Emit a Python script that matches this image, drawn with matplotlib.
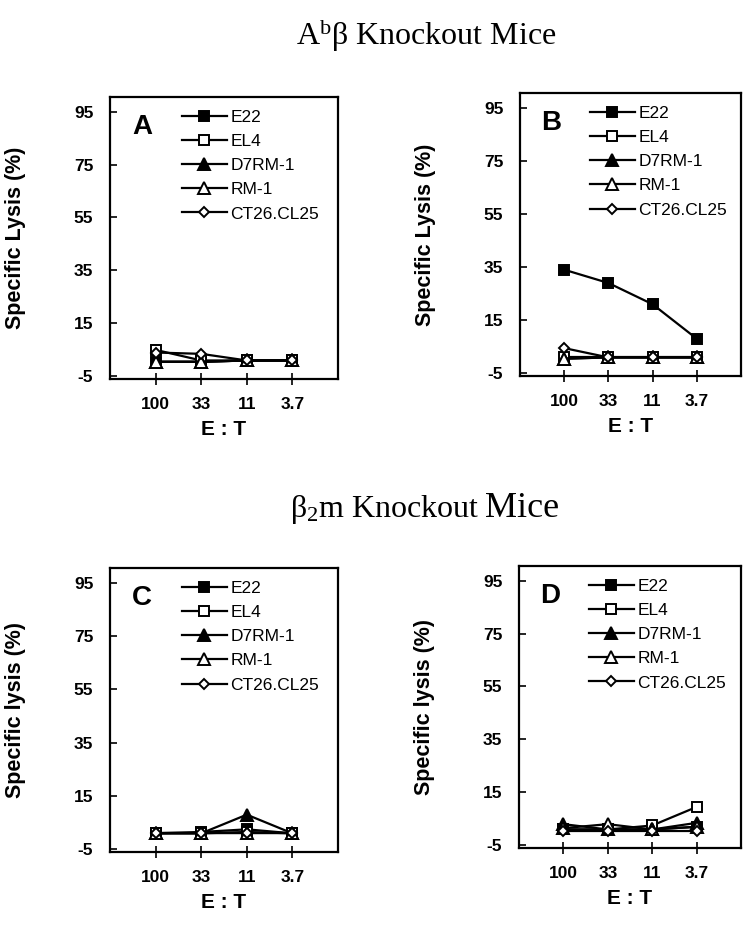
import matplotlib
matplotlib.use("Agg")
import matplotlib.pyplot as plt

plt.rcParams['font.family'] = ['Liberation Sans', 'DejaVu Sans']
plt.rcParams['mathtext.fontset'] = 'custom'
plt.rcParams['mathtext.rm'] = 'Liberation Serif'
plt.rcParams['mathtext.it'] = 'Liberation Serif'
plt.rcParams['axes.unicode_minus'] = False

# E:T ratios on the x axis
ratios = ['100', '33', '11', '3.7']
lines = ['E22', 'EL4', 'D7RM-1', 'RM-1', 'CT26.CL25']

# specific lysis (%), one list per target line
a_e22 = [0.5, 0.5, 1, 1]
a_el4 = [5, 1, 1, 1]
a_d7rm1 = [0.5, 0.5, 1, 1]
a_rm1 = [0.5, 0.5, 1, 1]
a_ct26 = [4, 3.5, 1, 1]

b_e22 = [34, 29, 21, 8]
b_el4 = [1, 1, 1, 1]
b_d7rm1 = [0.5, 1, 1, 1]
b_rm1 = [0.5, 1, 1, 1]
b_ct26 = [4.5, 1, 1, 1]

c_e22 = [1, 1.5, 2.5, 1]
c_el4 = [1, 1, 1.5, 1]
c_d7rm1 = [1, 1, 8, 1]
c_rm1 = [1, 1, 1, 1]
c_ct26 = [1, 1, 1, 1]

d_e22 = [1, 1, 1, 2]
d_el4 = [1, 1, 2.5, 9.5]
d_d7rm1 = [3, 1, 1, 3.5]
d_rm1 = [1.5, 3, 1, 2]
d_ct26 = [0.5, 0.5, 0.5, 0.5]

yticks = [-5, 15, 35, 55, 75, 95]

styles = {
    'E22': dict(marker='s', mfc='black', ms=7.5),
    'EL4': dict(marker='s', mfc='white', ms=7.5),
    'D7RM-1': dict(marker='^', mfc='black', ms=8),
    'RM-1': dict(marker='^', mfc='white', ms=8),
    'CT26.CL25': dict(marker='D', mfc='white', ms=5.5),
}

W, H = 750, 930
fig = plt.figure(figsize=(W / 100, H / 100), dpi=100)


def make_axes(left, top, right, bottom):
    return fig.add_axes([left / W, 1 - bottom / H, (right - left) / W, (bottom - top) / H])


panels = [
    ('A', make_axes(110, 97, 338, 379), [a_e22, a_el4, a_d7rm1, a_rm1, a_ct26], 'Specific Lysis (%)'),
    ('B', make_axes(520, 93, 741, 376), [b_e22, b_el4, b_d7rm1, b_rm1, b_ct26], 'Specific Lysis (%)'),
    ('C', make_axes(110, 568, 338, 852), [c_e22, c_el4, c_d7rm1, c_rm1, c_ct26], 'Specific lysis (%)'),
    ('D', make_axes(519, 566, 741, 848), [d_e22, d_el4, d_d7rm1, d_rm1, d_ct26], 'Specific lysis (%)'),
]

x = list(range(len(ratios)))
for letter, ax, series, ylab in panels:
    for name, vals in zip(lines, series):
        ax.plot(x, vals, color='black', lw=1.6, mec='black', mew=1.4,
                label=name, **styles[name])
    ax.set_xlim(-1, 4)
    ax.set_ylim(-6, 100.5)
    ax.set_yticks(yticks)
    ax.set_xticks(x)
    ax.set_xticklabels(ratios)
    for lab in ax.get_xticklabels() + ax.get_yticklabels():
        lab.set_fontweight('bold')
        lab.set_fontsize(12.5)
    ax.tick_params(axis='y', direction='in', length=5, width=1.2, pad=12)
    ax.tick_params(axis='x', direction='inout', length=8, width=1.2, pad=9)
    for sp in ax.spines.values():
        sp.set_linewidth(1.6)
    ax.set_xlabel('E : T', fontsize=15, fontweight='bold', labelpad=6)
    ax.set_ylabel(ylab, fontsize=15.5, fontweight='bold')
    ax.yaxis.set_label_coords(-84 / (ax.get_position().width * W), 0.5)
    ax.text(0.14, 0.894, letter, transform=ax.transAxes, fontsize=20,
            fontweight='bold', ha='center', va='center')
    ax.legend(loc='upper left', bbox_to_anchor=(0.315, 0.955), frameon=False,
              fontsize=12.5, handlelength=2.6, handletextpad=0.2,
              labelspacing=0.52, borderpad=0, borderaxespad=0)

fig.text(426 / W, 1 - 35 / H, r'A$^{\mathrm{b}}$β Knockout Mice', family='Liberation Serif',
         fontsize=23, ha='center', va='center')
fig.text(479 / W, 1 - 517 / H, r'β$_{\mathrm{2}}$m Knockout', family='Liberation Serif',
         fontsize=23, ha='right', va='baseline')
fig.text(485 / W, 1 - 517 / H, 'Mice', family='Liberation Serif',
         fontsize=26, ha='left', va='baseline')

fig.savefig('out.png', dpi=100)
